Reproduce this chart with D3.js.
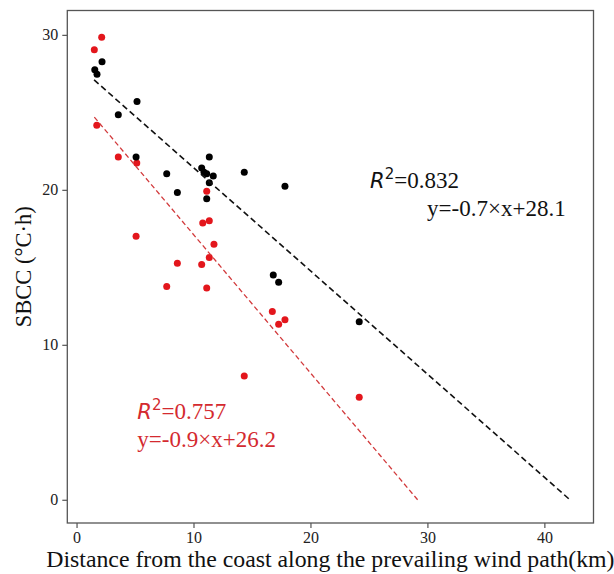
<!DOCTYPE html>
<html>
<head>
<meta charset="utf-8">
<script src="https://cdn.jsdelivr.net/npm/d3@7"></script>
<style>
  body { margin: 0; background: #fff; }
  svg text { font-family: "Liberation Serif", "Times New Roman", serif; }
</style>
</head>
<body>
<svg id="svg" width="614" height="574"></svg>
<script>
const SVG = d3.select("#svg");

// distance from coast (km) and SBCC values
const blackX = [1.56, 1.75, 2.18, 3.57, 5.17, 5.09, 7.71, 8.62, 10.70, 10.90,
  11.13, 11.69, 11.35, 11.35, 11.13, 14.34, 17.82, 16.82, 17.28, 24.17];
const blackY = [27.75, 27.45, 28.27, 24.85, 25.69, 22.11, 21.04, 19.82, 21.41, 21.13,
  21.04, 20.89, 22.11, 20.46, 19.43, 21.13, 20.23, 14.51, 14.04, 11.48];
const redX = [2.15, 1.52, 1.73, 3.57, 5.15, 5.09, 7.71, 8.62, 10.70, 10.79,
  11.35, 11.13, 11.13, 11.75, 11.35, 14.34, 16.74, 17.28, 17.82, 24.17];
const redY = [29.85, 29.04, 24.16, 22.11, 21.73, 17.0, 13.76, 15.26, 15.18, 17.86,
  18.01, 19.90, 13.67, 16.49, 15.63, 7.98, 12.15, 11.33, 11.61, 6.62];

// fitted lines: [x, y] at both ends
const blackFit = [[1.50, 27.09], [42.18, 0]];
const redFit = [[1.52, 24.69], [29.16, 0]];

const xTicks = [0, 10, 20, 30, 40];
const yTicks = [0, 10, 20, 30];

const blackLabel = ["0.832", "y=-0.7×x+28.1"];
const redLabel = ["0.757", "y=-0.9×x+26.2"];

const L = 67.3, R = 593.5, T = 10.5, B = 523;
var x = d3.scaleLinear().domain([-0.79, 44.2]).range([L, R]),
  y = d3.scaleLinear().domain([-1.5, 31.57]).range([B, T]);

var xaxis = SVG.append("g")
  .attr("transform", `translate(0, ${B})`)
  .call(d3.axisBottom(x).tickValues(xTicks).tickSize(5).tickPadding(4));
var yaxis = SVG.append("g")
  .attr("transform", `translate(${L}, 0)`)
  .call(d3.axisLeft(y).tickValues(yTicks).tickSize(5).tickPadding(4));
SVG.selectAll(".domain").remove();
SVG.selectAll(".tick line").attr("stroke", "#444").attr("stroke-width", 1.1);
SVG.selectAll(".tick text")
  .attr("font-family", "Liberation Serif")
  .attr("font-size", 16)
  .attr("fill", "#222");

SVG.append("rect")
  .attr("x", L).attr("y", T)
  .attr("width", R - L).attr("height", B - T)
  .attr("fill", "none")
  .attr("stroke", "#555")
  .attr("stroke-width", 1.3);

function dots(xs, ys, color) {
  SVG.append("g").selectAll("circle")
    .data(xs.map((d, i) => [d, ys[i]]))
    .join("circle")
    .attr("cx", (d) => x(d[0]))
    .attr("cy", (d) => y(d[1]))
    .attr("r", 3.5)
    .attr("fill", color);
}
dots(redX, redY, "#e3161c");
dots(blackX, blackY, "#000");

var line = d3.line().x((d) => x(d[0])).y((d) => y(d[1]));
SVG.append("path")
  .attr("d", line(blackFit))
  .attr("fill", "none")
  .attr("stroke", "#111")
  .attr("stroke-width", 1.6)
  .attr("stroke-dasharray", "6,3.5");
SVG.append("path")
  .attr("d", line(redFit))
  .attr("fill", "none")
  .attr("stroke", "#d23a3c")
  .attr("stroke-width", 1.3)
  .attr("stroke-dasharray", "5,3");

function annot(px, py, lines, color, dx2) {
  var t = SVG.append("text")
    .attr("x", px).attr("y", py)
    .attr("fill", color)
    .attr("font-size", 23);
  t.append("tspan")
    .attr("font-family", "DejaVu Sans")
    .attr("font-style", "italic")
    .attr("font-size", 21)
    .text("R");
  t.append("tspan")
    .attr("font-family", "DejaVu Sans")
    .attr("font-size", 15)
    .attr("dy", -9)
    .text("2");
  t.append("tspan")
    .attr("dy", 9)
    .text("=" + lines[0]);
  SVG.append("text")
    .attr("x", px + dx2).attr("y", py + 28)
    .attr("fill", color)
    .attr("font-size", 23)
    .text(lines[1]);
}
annot(x(25.1), y(20.1), blackLabel, "#111", 57);
annot(x(5.2), y(5.2), redLabel, "#d42a2f", 0);

SVG.append("text")
  .attr("x", (L + R) / 2)
  .attr("y", 567)
  .attr("text-anchor", "middle")
  .attr("font-size", 23.8)
  .attr("fill", "#111")
  .text("Distance from the coast along the prevailing wind path(km)");

SVG.append("text")
  .attr("transform", `translate(31, ${(T + B) / 2}) rotate(-90)`)
  .attr("text-anchor", "middle")
  .attr("font-size", 22.5)
  .attr("fill", "#111")
  .text("SBCC (°C·h)");
</script>
</body>
</html>
